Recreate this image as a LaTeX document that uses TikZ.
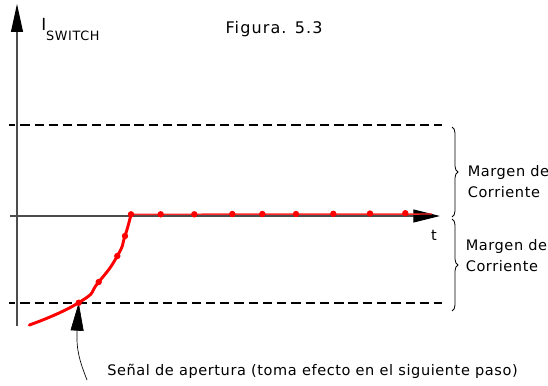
\documentclass[tikz,border=0pt]{standalone}
\usepackage{fontspec}
\setmainfont{DejaVu Sans}
\usetikzlibrary{arrows.meta,decorations.pathreplacing}

\begin{document}
\begin{tikzpicture}[
  x=0.75pt, y=-0.75pt,
  % 一个单位 = 参考图 1px；y 向下
  line cap=butt, line join=miter,
  ejeline/.style={line width=0.8pt, draw=black!70},
  margenline/.style={line width=1.1pt, dash pattern=on 7pt off 3.7pt, dash phase=2.2pt},
  curvaline/.style={line width=2.2pt, red, line cap=round},
  llave/.style={decorate, decoration={brace, amplitude=4.5pt}, line width=0.6pt},
  every node/.style={inner sep=0pt},
  txt/.style={font=\addfontfeatures{LetterSpace=4}\fontsize{10.9pt}{15.75pt}\selectfont}
]
  \useasboundingbox (0,0) rectangle (548,385);
  % ---- 坐标轴 ----
  \coordinate (ybajo) at ( 17.0,326.0);
  \coordinate (yalto) at ( 17.0,  4.0);
  \coordinate (xizq)  at ( 10.0,216.0);
  \coordinate (xder)  at (440.0,216.0);
  \draw[ejeline, -{Triangle[length=21pt, width=9pt, color=black]}] (ybajo) -- (yalto);
  \draw[ejeline, -{Triangle[length=20pt, width=9.75pt, color=black]}] (xizq) -- (xder);
  % ---- 虚线：电流裕度上下限 ----
  \coordinate (supA) at (  9.0,125.0);
  \coordinate (supB) at (442.0,125.0);
  \coordinate (infA) at (  9.0,303.0);
  \coordinate (infB) at (442.0,303.0);
  \draw[margenline] (supA) -- (supB);
  \draw[margenline] (infA) -- (infB);
  % ---- 红色曲线与采样点 ----
  \coordinate (c0) at ( 29.3,325.0);
  \coordinate (c1) at ( 78.7,302.7);
  \coordinate (c2) at ( 98.7,282.0);
  \coordinate (c3) at (117.3,256.0);
  \coordinate (c4) at (125.0,236.0);
  \coordinate (p1) at (131.0,214.3);
  \coordinate (p2) at (160.7,214.3);
  \coordinate (p3) at (194.3,214.3);
  \coordinate (p4) at (232.3,214.0);
  \coordinate (p5) at (262.3,214.0);
  \coordinate (p6) at (296.0,214.0);
  \coordinate (p7) at (333.3,213.8);
  \coordinate (p8) at (370.0,213.5);
  \coordinate (p9) at (405.3,213.2);
  \coordinate (pfin) at (432.0,214.0);
  % ---- 指示箭头（先画，红点压在箭尖上） ----
  \coordinate (senalpie) at ( 87.0,380.0);
  \draw[line width=0.5pt, -{Triangle[length=21pt, width=9.75pt]}]
    (senalpie) .. controls (80.0,362.0) and (76.0,350.0) .. (c1);
  \draw[line width=1.1pt, red!85] (p1) -- (pfin);
  \draw[curvaline] plot[smooth, tension=1] coordinates
    {(c0) (c1) (c2) (c3) (c4) (p1)};
  \foreach \p in {c1,c2,c3,c4,p1,p2,p3,p4,p5,p6,p7,p8,p9}
    \fill[red] (\p) circle (2.4pt);
  % ---- 花括号 ----
  \coordinate (ll1a) at (452.0,127.0);
  \coordinate (ll1b) at (452.0,217.0);
  \coordinate (ll2a) at (452.0,219.0);
  \coordinate (ll2b) at (452.0,311.0);
  \draw[llave] (ll1a) -- (ll1b);
  \draw[llave] (ll2a) -- (ll2b);
  % ---- 标签 ----
  \node[anchor=base west, font=\fontsize{12.5pt}{12.5pt}\selectfont] (ilabel) at (41.0,30.5)
    {I\raisebox{-7.5pt}{\addfontfeatures{LetterSpace=5}\fontsize{9.6pt}{9.6pt}\selectfont SWITCH}};
  \node[anchor=base, font=\addfontfeatures{LetterSpace=7}\fontsize{12pt}{12pt}\selectfont] (figura) at (274.0,33.3) {Figura. 5.3};
  \node[txt, anchor=base] (tlabel) at (434.0,240.0) {t};
  \node[txt, anchor=base west, align=left] (margen1) at (467.5,197.3) {Margen de\\Corriente};
  \node[txt, anchor=base west, align=left] (margen2) at (465.5,271.7) {Margen de\\Corriente};
  \node[txt, anchor=base] (senal) at (312.5,375.7) {Señal de apertura (toma efecto en el siguiente paso)};
\end{tikzpicture}
\end{document}
